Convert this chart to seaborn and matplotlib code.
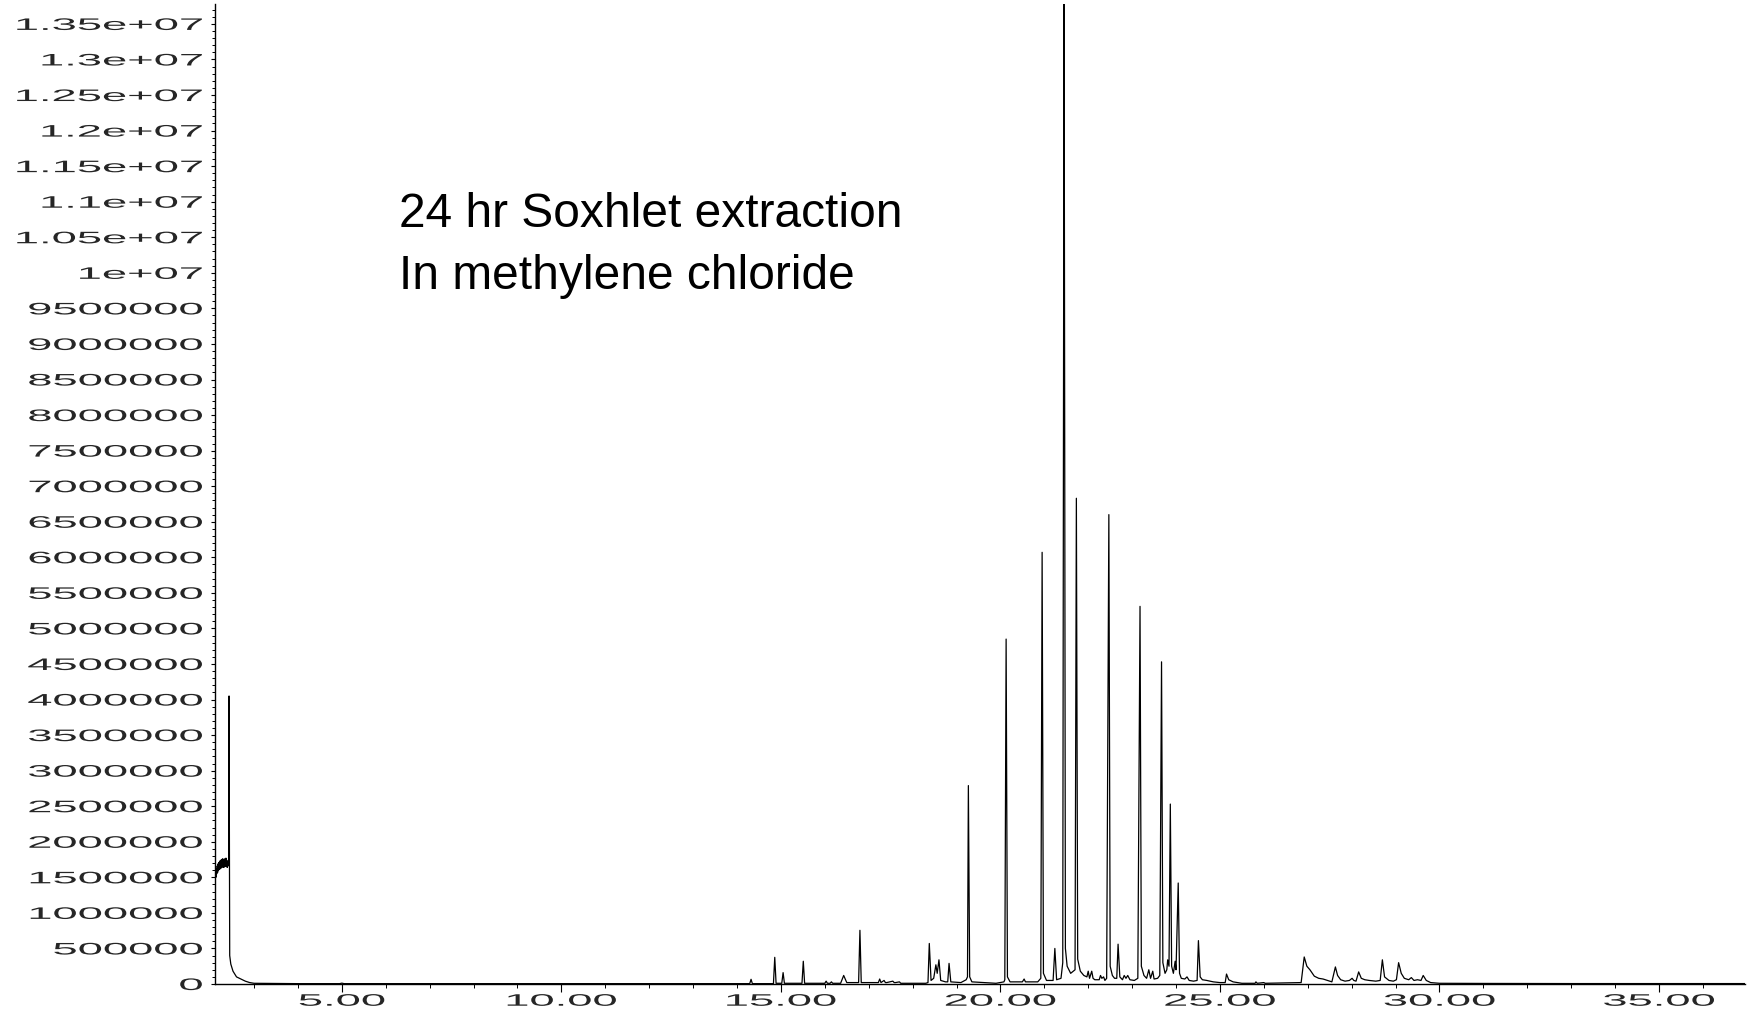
import matplotlib
matplotlib.use("Agg")
import matplotlib.pyplot as plt
import seaborn as sns
import pandas as pd
from matplotlib.ticker import MultipleLocator
from matplotlib.patheffects import AbstractPathEffect
from matplotlib.transforms import Affine2D

# chromatogram trace (retention time in min, abundance in millions)
rt_min = [
    2.11, 2.12, 2.13, 2.14, 2.15, 2.16, 2.17, 2.18, 2.19, 2.20, 2.21, 2.22, 2.23, 2.24, 2.25, 2.26,
    2.27, 2.28, 2.29, 2.30, 2.31, 2.32, 2.33, 2.34, 2.35, 2.36, 2.37, 2.38, 2.39, 2.40, 2.41, 2.42,
    2.43, 2.445, 2.47, 2.52, 2.60, 2.70, 2.80, 2.90, 3.00, 4.00, 4.95, 5.00, 5.05, 6.00, 8.00, 10.00, 12.00, 13.80,
    14.29, 14.32, 14.35, 14.83, 14.86, 14.89, 15.02, 15.05, 15.08, 15.48, 15.51, 15.54, 16.00, 16.03, 16.06, 16.12, 16.15, 16.18,
    16.36, 16.43, 16.50, 16.77, 16.80, 16.83, 17.22, 17.25, 17.28, 17.35, 17.38, 17.41, 17.55, 17.58, 17.61, 17.70, 17.73, 18.30,
    18.35, 18.38, 18.42, 18.48, 18.53, 18.56, 18.60, 18.64, 18.75, 18.80, 18.83, 18.87, 19.10, 19.22, 19.25, 19.27, 19.30, 19.35,
    19.90, 20.08, 20.10, 20.13, 20.16, 20.22, 20.50, 20.54, 20.57, 20.85, 20.92, 20.95, 20.98, 21.05, 21.20, 21.24, 21.28,
    21.38, 21.42, 21.45, 21.48, 21.52, 21.60, 21.70, 21.73, 21.76, 21.82, 21.90, 21.97, 22.00, 22.03, 22.08, 22.11, 22.15,
    22.25, 22.28, 22.31, 22.35, 22.38, 22.42, 22.47, 22.50, 22.55, 22.60, 22.65, 22.68, 22.72, 22.78, 22.82, 22.86, 22.90, 22.95, 23.05,
    23.13, 23.18, 23.21, 23.27, 23.33, 23.38, 23.42, 23.47, 23.50, 23.58,
    23.63, 23.67, 23.70, 23.75, 23.79, 23.81, 23.84, 23.87, 23.90, 23.94, 23.98, 24.00, 24.05, 24.08, 24.12, 24.20, 24.25, 24.30, 24.40,
    24.48, 24.51, 24.55, 24.60, 24.70, 24.85, 25.00, 25.12, 25.15, 25.20, 25.30, 25.50, 25.80, 25.82, 25.85, 26.00, 26.03, 26.50, 26.85,
    26.92, 26.98, 27.05, 27.15, 27.25, 27.35, 27.45, 27.55, 27.63, 27.68, 27.75, 27.85, 27.95, 28.01, 28.05, 28.10,
    28.16, 28.22, 28.30, 28.40, 28.55, 28.65, 28.70, 28.75, 28.85, 28.95, 29.02, 29.07, 29.13, 29.20, 29.30, 29.36,
    29.42, 29.50, 29.58, 29.63, 29.70, 29.80, 30.00, 31.00, 33.00, 35.00, 37.00,
]
abundance_m = [
    1.45, 1.58, 1.50, 1.62, 1.55, 1.66, 1.57, 1.69, 1.60, 1.71, 1.61, 1.73, 1.62, 1.74, 1.63, 1.75,
    1.64, 1.76, 1.65, 1.74, 1.64, 1.76, 1.65, 1.75, 1.66, 1.77, 1.65, 1.74, 1.64, 1.72, 1.66, 1.70,
    4.05, 0.40, 0.28, 0.18, 0.10, 0.07, 0.04, 0.02, 0.01, 0.005, 0.005, 0.012, 0.005, 0.005, 0.004, 0.004, 0.005, 0.005,
    0.005, 0.066, 0.005, 0.005, 0.375, 0.01, 0.01, 0.16, 0.01, 0.01, 0.32, 0.01, 0.01, 0.04, 0.01, 0.01, 0.03, 0.01,
    0.01, 0.12, 0.02, 0.02, 0.755, 0.02, 0.02, 0.07, 0.02, 0.05, 0.02, 0.02, 0.04, 0.02, 0.02, 0.03, 0.01, 0.01,
    0.02, 0.57, 0.05, 0.08, 0.27, 0.15, 0.34, 0.05, 0.03, 0.03, 0.29, 0.03, 0.02, 0.06, 0.10, 2.79, 0.10, 0.03,
    0.01, 0.03, 0.06, 4.85, 0.10, 0.03, 0.03, 0.07, 0.03, 0.03, 0.08, 6.07, 0.15, 0.05, 0.05, 0.50, 0.06,
    0.08, 0.30, 14.2, 0.50, 0.25, 0.15, 0.20, 6.83, 0.35, 0.18, 0.12, 0.10, 0.18, 0.08, 0.18, 0.08, 0.06,
    0.06, 0.12, 0.08, 0.10, 0.05, 0.08, 6.60, 0.25, 0.12, 0.08, 0.08, 0.56, 0.10, 0.06, 0.12, 0.08, 0.12, 0.06, 0.05,
    0.08, 5.31, 0.25, 0.12, 0.08, 0.20, 0.08, 0.18, 0.07, 0.08,
    0.12, 4.53, 0.30, 0.15, 0.20, 0.34, 0.25, 2.53, 0.25, 0.15, 0.32, 0.20, 1.42, 0.15, 0.08, 0.07, 0.10, 0.05, 0.04,
    0.05, 0.61, 0.10, 0.06, 0.05, 0.03, 0.02, 0.02, 0.14, 0.06, 0.03, 0.01, 0.01, 0.03, 0.01, 0.02, 0.01, 0.015, 0.02,
    0.38, 0.25, 0.20, 0.11, 0.08, 0.07, 0.05, 0.03, 0.24, 0.12, 0.06, 0.04, 0.05, 0.08, 0.05, 0.04,
    0.17, 0.08, 0.06, 0.05, 0.04, 0.05, 0.34, 0.10, 0.05, 0.04, 0.06, 0.30, 0.15, 0.08, 0.06, 0.09,
    0.05, 0.06, 0.05, 0.12, 0.05, 0.02, 0.01, 0.008, 0.006, 0.006, 0.006,
]
assert len(rt_min) == len(abundance_m)

x_ticks = [5, 10, 15, 20, 25, 30, 35]
x_labels = ["5.00", "10.00", "15.00", "20.00", "25.00", "30.00", "35.00"]
y_ticks = [i * 500000 for i in range(28)]
y_labels = ["0", "500000", "1000000", "1500000", "2000000", "2500000", "3000000",
            "3500000", "4000000", "4500000", "5000000", "5500000", "6000000", "6500000",
            "7000000", "7500000", "8000000", "8500000", "9000000", "9500000", "1e+07",
            "1.05e+07", "1.1e+07", "1.15e+07", "1.2e+07", "1.25e+07", "1.3e+07", "1.35e+07"]
note_lines = ["24 hr Soxhlet extraction", "In methylene chloride"]


class Widen(AbstractPathEffect):
    # horizontally stretched tick glyphs, like the instrument software output
    def __init__(self, sx, anchor="center"):
        super().__init__()
        self.sx = sx
        self.anchor = anchor

    def draw_path(self, renderer, gc, tpath, affine, rgbFace=None):
        ext = tpath.get_extents()
        px = ext.x1 if self.anchor == "right" else (ext.x0 + ext.x1) / 2
        t = Affine2D().translate(-px, 0).scale(self.sx, 1).translate(px, 0) + affine
        renderer.draw_path(gc, tpath, t, rgbFace)


df = pd.DataFrame({"rt": rt_min, "abundance": [a * 1e6 for a in abundance_m]})

sns.set_theme(style="ticks")
plt.rcParams["font.family"] = ["Liberation Sans", "DejaVu Sans"]

W, H = 1753, 1013
fig = plt.figure(figsize=(W / 100, H / 100), dpi=100)
ax = fig.add_axes([215 / W, 1 - 984 / H, (1745 - 215) / W, (984 - 4) / H])

sns.lineplot(data=df, x="rt", y="abundance", color="black", linewidth=0.9,
             estimator=None, sort=False, ax=ax)

ax.set_xlim(2.11, 36.96)
ax.set_ylim(0, 1.378e7)
ax.set_xlabel("")
ax.set_ylabel("")
sns.despine(ax=ax)
for s in ["left", "bottom"]:
    ax.spines[s].set_color("black")
    ax.spines[s].set_linewidth(1.0)

ax.set_xticks(x_ticks, x_labels)
ax.set_yticks(y_ticks, y_labels)
ax.xaxis.set_minor_locator(MultipleLocator(1))
ax.yaxis.set_minor_locator(MultipleLocator(100000))
ax.tick_params(axis="x", which="major", length=5.5, width=0.8, color="black", pad=1.5, labelsize=12)
ax.tick_params(axis="x", which="minor", length=3, width=0.7, color="black")
ax.tick_params(axis="y", which="major", length=3, width=0.8, color="black", pad=6, labelsize=12)
ax.tick_params(axis="y", which="minor", length=2, width=0.7, color="black")

for tk in ax.yaxis.get_major_ticks():
    tk.label1.set_path_effects([Widen(2.72, "right")])
for tk in ax.xaxis.get_major_ticks():
    tk.label1.set_path_effects([Widen(2.72, "center")])

fig.text(399 / W, 1 - 227 / H, note_lines[0], fontsize=34.5, color="black", va="baseline", ha="left")
fig.text(399 / W, 1 - 289 / H, note_lines[1], fontsize=34.5, color="black", va="baseline", ha="left")

fig.savefig("out.png", dpi=100)
plt.close(fig)
